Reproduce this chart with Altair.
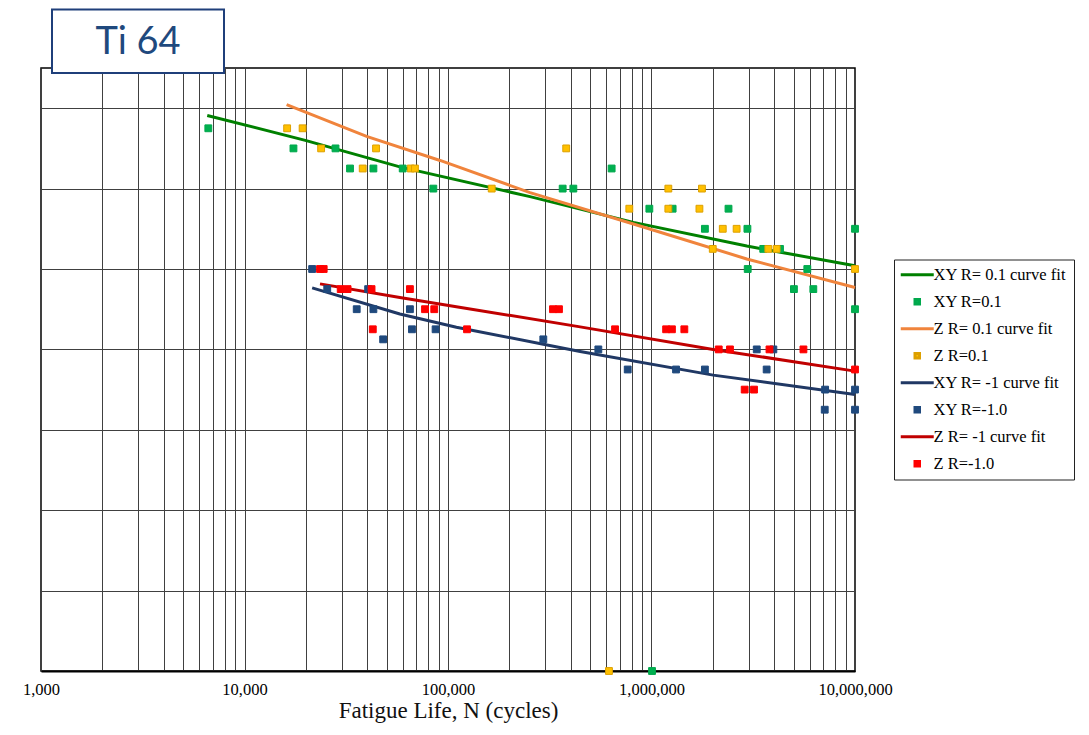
import altair as alt
import pandas as pd

# ---------------- data ----------------
legend_order = ["XY R= 0.1 curve fit", "XY R=0.1", "Z R= 0.1 curve fit", "Z R=0.1",
                "XY R= -1 curve fit", "XY R=-1.0", "Z R= -1 curve fit", "Z R=-1.0"]

# test points: fatigue life N (cycles), max stress (axis unlabeled)
xy01_n = [6640, 17400, 28000, 33000, 43000, 59900, 84700, 366000, 413000, 637000, 976000,
          1270000, 2390000, 1830000, 2960000, 10000000, 3540000, 4280000, 2970000, 5830000,
          5010000, 6240000, 10000000, 1006000]
xy01_s = [135, 130, 130, 125, 125, 125, 120, 120, 120, 125, 115,
          115, 115, 110, 110, 110, 105, 105, 100, 100,
          95, 95, 90, 0]

z01_n = [16200, 19300, 23800, 44300, 38100, 65600, 68800, 164000, 381000, 1210000, 1770000,
         778000, 1210000, 1720000, 2240000, 2620000, 2000000, 3750000, 4120000, 10000000, 618000]
z01_s = [135, 135, 130, 130, 125, 125, 125, 120, 130, 120, 120,
         115, 115, 115, 110, 110, 105, 105, 105, 100, 0]

xym1_n = [21500, 25500, 40500, 35600, 43000, 65000, 66500, 86900, 48000, 294000, 548000,
          764000, 1320000, 1830000, 3290000, 3970000, 3680000, 7130000, 10000000, 7100000, 10000000]
xym1_s = [100, 95, 95, 90, 90, 90, 85, 85, 82.5, 82.5, 80,
          75, 75, 75, 80, 80, 75, 70, 70, 65, 65]

zm1_n = [23500, 24500, 29700, 32100, 42100, 65000, 77100, 85600, 328000, 351000, 42700, 124000,
         662000, 1180000, 1260000, 1450000, 2140000, 2430000, 3800000, 5580000, 2870000, 3190000, 10000000]
zm1_s = [100, 100, 95, 95, 95, 95, 90, 90, 90, 90, 85, 85,
         85, 85, 85, 85, 80, 80, 80, 80, 70, 70, 75]

# curve fits
xy01_fit_n = [6560, 19900, 58000, 253000, 815000, 2940000, 10000000]
xy01_fit_s = [138.2, 132, 125.4, 118, 111.6, 105.7, 100.8]
z01_fit_n = [16100, 39800, 91400, 253000, 815000, 2940000, 10000000]
z01_fit_s = [140.9, 133, 127, 119, 111.2, 102.5, 95.4]
xym1_fit_n = [21500, 58000, 110000, 294000, 446000, 2010000, 10000000]
xym1_fit_s = [95.3, 88.8, 85.5, 81.3, 79.5, 73.6, 68.8]
zm1_fit_n = [23500, 58000, 124000, 446000, 2010000, 10000000]
zm1_fit_s = [96.3, 92.9, 90.2, 85.6, 80, 74.6]

x_label_values = [1000, 10000, 100000, 1000000, 10000000]
x_grid_values = [k * d for d in [1000, 10000, 100000, 1000000] for k in range(1, 10)] + [10000000]
y_grid_values = [0, 20, 40, 60, 80, 100, 120, 140]

fill_colors = ["#008000", "#00B050", "#F0843C", "#FFC000", "#203864", "#1F497D", "#C00000", "#FF0000"]
stroke_colors = ["#008000", "#00A84C", "#F0843C", "#DDA000", "#203864", "#1F497D", "#C00000", "#FF0000"]
LINE_SHAPE = "M-3.3,0H3.3"
SQ_SHAPE = "M-0.45,-0.45H0.45V0.45H-0.45Z"
shape_range = [LINE_SHAPE, SQ_SHAPE] * 4

# ---------------- tables ----------------
pts = []
for name, ns, ss in [(legend_order[1], xy01_n, xy01_s), (legend_order[3], z01_n, z01_s),
                     (legend_order[5], xym1_n, xym1_s), (legend_order[7], zm1_n, zm1_s)]:
    pts += [{"series": name, "n": n, "s": s} for n, s in zip(ns, ss)]
pts_df = pd.DataFrame(pts)

fits = []
for name, ns, ss in [(legend_order[0], xy01_fit_n, xy01_fit_s), (legend_order[2], z01_fit_n, z01_fit_s),
                     (legend_order[4], xym1_fit_n, xym1_fit_s), (legend_order[6], zm1_fit_n, zm1_fit_s)]:
    fits += [{"series": name, "n": n, "s": s} for n, s in zip(ns, ss)]
fit_df = pd.DataFrame(fits)

title_df = pd.DataFrame({"t": ["Ti 64"]})

# ---------------- encodings ----------------
xaxis = alt.Axis(values=x_grid_values,
                 labelExpr="indexof(" + str(x_label_values) + ", datum.value) >= 0 ? format(datum.value, ',') : ''",
                 grid=True, gridColor="#404040", gridWidth=1, ticks=False,
                 domainColor="black", domainWidth=2,
                 labelFont="Liberation Serif", labelFontSize=16.5, labelColor="black",
                 labelPadding=10, labelFlush=False, labelOverlap=False,
                 title="Fatigue Life, N (cycles)", titleFont="Liberation Serif", titleFontSize=23,
                 titleFontWeight="normal", titleColor="#111111", titlePadding=2)
yaxis = alt.Axis(values=y_grid_values, labels=False, ticks=False, domain=False, grid=True,
                 gridColor="#404040", gridWidth=1, title=None)

X = alt.X("n:Q", scale=alt.Scale(type="log", domain=[1000, 10000000], nice=False), axis=xaxis)
Y = alt.Y("s:Q", scale=alt.Scale(domain=[0, 150], nice=False, zero=False), axis=yaxis)

leg = alt.Legend(title=None)
stroke_enc = alt.Stroke("series:N", scale=alt.Scale(domain=legend_order, range=stroke_colors), legend=leg)
fill_enc = alt.Fill("series:N", scale=alt.Scale(domain=legend_order, range=fill_colors), legend=leg)
shape_enc = alt.Shape("series:N", scale=alt.Scale(domain=legend_order, range=shape_range), legend=leg)

lines = alt.Chart(fit_df).mark_line(strokeWidth=3).encode(
    x=X, y=Y, stroke=stroke_enc, order=alt.Order("n:Q"))

points = alt.Chart(pts_df).mark_point(filled=True, size=230, strokeWidth=1, opacity=1).encode(
    x=X, y=Y, fill=fill_enc, stroke=stroke_enc, shape=shape_enc)

box = alt.Chart(title_df).mark_rect(fill="white", stroke="#1F3F7A", strokeWidth=2).encode(
    x=alt.value(11), x2=alt.value(183), y=alt.value(-58.5), y2=alt.value(5))
txt = alt.Chart(title_df).mark_text(font="Lato", fontSize=38, color="#1F497D",
                                    baseline="alphabetic", align="center").encode(
    x=alt.value(97), y=alt.value(-14), text="t:N")

chart = alt.layer(lines, points, box, txt).properties(
    width=814, height=603,
    autosize=alt.AutoSizeParams(type="none"),
    padding={"left": 33, "top": 60, "right": 226, "bottom": 56},
    background="white",
).configure_view(stroke="black", strokeWidth=1.5).configure_legend(
    orient="none", legendX=853, legendY=191.5, padding=7,
    strokeColor="#222222", fillColor="white",
    symbolSize=100, symbolStrokeWidth=3, symbolOffset=8, labelOffset=8,
    labelFont="Liberation Serif", labelFontSize=16.5, labelColor="black",
    rowPadding=10, labelLimit=300)

chart.save("out.html", embed_options={"renderer": "svg", "actions": False})
